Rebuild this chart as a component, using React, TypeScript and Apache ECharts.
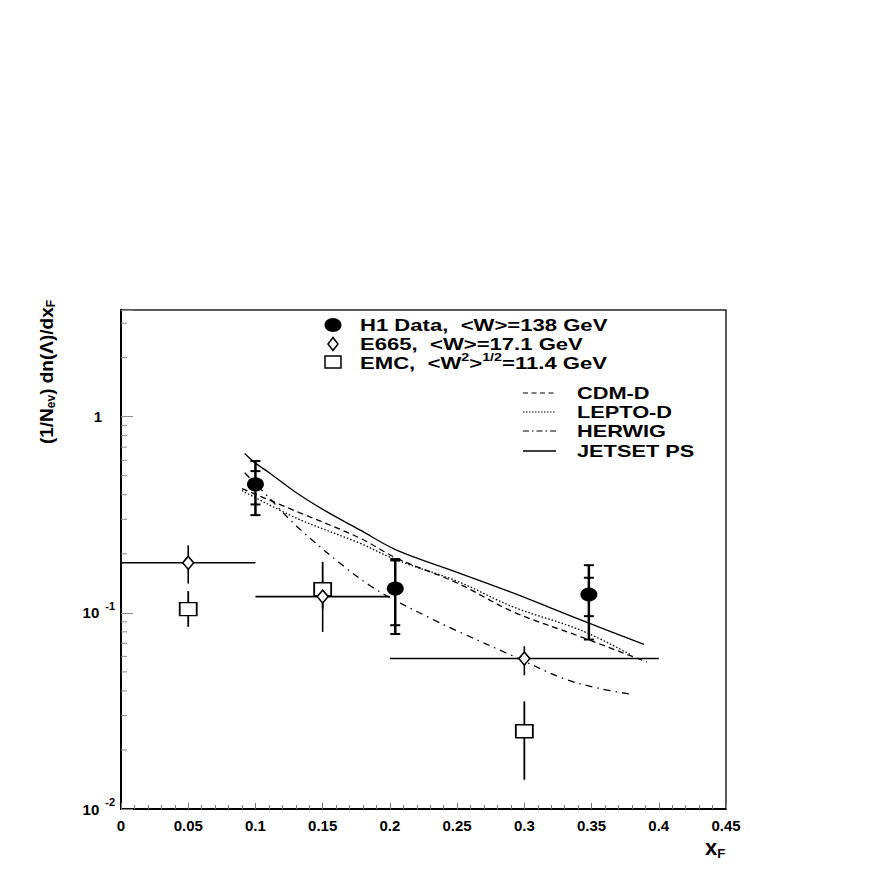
import React, { useEffect, useRef } from 'react';
import * as echarts from 'echarts';

// ---- Data ----
const H1_X = [0.1, 0.204, 0.348];
const H1_Y = [0.452, 0.133, 0.124];
const H1_STAT_LO = [0.357, 0.0865, 0.0962];
const H1_STAT_HI = [0.528, 0.185, 0.151];
const H1_TOT_LO = [0.315, 0.078, 0.0731];
const H1_TOT_HI = [0.594, 0.188, 0.175];

const E665_X = [0.05, 0.15, 0.3];
const E665_XLO = [0.0, 0.1, 0.2];
const E665_XHI = [0.1, 0.2, 0.4];
const E665_Y = [0.18, 0.121, 0.0585];
const E665_YLO = [0.141, 0.08, 0.0481];
const E665_YHI = [0.221, 0.145, 0.0676];

const EMC_X = [0.05, 0.15, 0.3];
const EMC_Y = [0.1045, 0.132, 0.0249];
const EMC_YLO = [0.0849, 0.105, 0.0141];
const EMC_YHI = [0.129, 0.182, 0.0354];

const CDM_X = [0.09, 0.131, 0.178, 0.205, 0.25, 0.292, 0.342, 0.391];
const CDM_Y = [0.43, 0.328, 0.24, 0.19, 0.142, 0.101, 0.0755, 0.0562];

const LEPTO_X = [0.09, 0.131, 0.178, 0.205, 0.25, 0.292, 0.342, 0.38];
const LEPTO_Y = [0.42, 0.303, 0.226, 0.186, 0.145, 0.107, 0.0816, 0.0608];

const HERWIG_X = [0.092, 0.11, 0.131, 0.166, 0.185, 0.203, 0.23, 0.25, 0.292, 0.329, 0.355, 0.379];
const HERWIG_Y = [0.518, 0.387, 0.275, 0.172, 0.138, 0.1166, 0.094, 0.0809, 0.0601, 0.0463, 0.0413, 0.0385];

const JETSET_X = [0.092, 0.1, 0.111, 0.131, 0.153, 0.178, 0.205, 0.25, 0.292, 0.342, 0.389];
const JETSET_Y = [0.65, 0.58, 0.514, 0.407, 0.328, 0.264, 0.209, 0.161, 0.126, 0.092, 0.069];

const X_TICKS = [0, 0.05, 0.1, 0.15, 0.2, 0.25, 0.3, 0.35, 0.4, 0.45];
const Y_MINOR_TICKS = [0.02, 0.03, 0.04, 0.05, 0.06, 0.07, 0.08, 0.09, 0.2, 0.3, 0.4, 0.5, 0.6, 0.7, 0.8, 0.9, 2, 3];

const FONT = '"Liberation Sans", Arial, Helvetica, sans-serif';

const pairs = (xs: number[], ys: number[]) => xs.map((x, i) => [x, ys[i]]);

export default function App() {
  const ref = useRef<HTMLDivElement>(null);
  useEffect(() => {
    const chart = echarts.init(ref.current!, null, { renderer: 'svg' });

    const lineSeries = (name: string, xs: number[], ys: number[], type: any) => ({
      name,
      type: 'line',
      data: pairs(xs, ys),
      showSymbol: false,
      symbol: 'none',
      smooth: 0.35,
      z: 2,
      silent: true,
      lineStyle: { color: '#000', width: 1.3, type },
    });

    const tickTxt = { fontFamily: FONT, fontWeight: 'bold', color: '#000' };

    const option: any = {
      animation: false,
      backgroundColor: '#fff',
      grid: {
        left: 121, top: 310, width: 605, height: 499,
        show: true, borderColor: '#222', borderWidth: 1.5, backgroundColor: 'transparent',
      },
      xAxis: {
        type: 'value', min: 0, max: 0.45, interval: 0.05,
        axisLine: { show: true, onZero: false, lineStyle: { color: '#000', width: 2 } },
        axisTick: { show: true, inside: true, length: 6, lineStyle: { color: '#777', width: 1 } },
        minorTick: { show: true, splitNumber: 5, length: 4, lineStyle: { color: '#777', width: 1 } },
        splitLine: { show: false },
        minorSplitLine: { show: false },
        axisLabel: {
          ...tickTxt, fontSize: 15, margin: 9,
          formatter: (v: number) => {
            const t = X_TICKS.find((k) => Math.abs(k - v) < 1e-9);
            return t === undefined ? '' : String(t);
          },
        },
      },
      yAxis: {
        type: 'log', logBase: 10, min: 0.01, max: 3.5, splitNumber: 3,
        axisLine: { show: true, onZero: false, lineStyle: { color: '#000', width: 2 } },
        axisTick: { show: true, inside: true, length: 12, lineStyle: { color: '#888', width: 1 } },
        minorTick: { show: false },
        splitLine: { show: false },
        axisLabel: {
          margin: 6,
          formatter: (v: number) => {
            if (Math.abs(v - 1) < 1e-9) return '{n|1}{p|}';
            if (Math.abs(v - 0.1) < 1e-10) return '{n|10}{s|-1}';
            if (Math.abs(v - 0.01) < 1e-11) return '{n|10}{s|-2}';
            return '';
          },
          rich: {
            n: { ...tickTxt, fontSize: 15 },
            s: { ...tickTxt, fontSize: 11, padding: [0, 0, 14, 6] },
            p: { width: 13 },
          },
        },
      },
      series: [
        // y minor ticks (log 2..9)
        {
          type: 'custom', silent: true, z: 1,
          data: Y_MINOR_TICKS.map((v) => [0, v]),
          renderItem: (params: any, api: any) => {
            const p = api.coord([0, api.value(1)]);
            return {
              type: 'line',
              shape: { x1: p[0], y1: p[1], x2: p[0] + 6, y2: p[1] },
              style: { stroke: '#888', lineWidth: 1 },
            };
          },
        },
        lineSeries('CDM-D', CDM_X, CDM_Y, [6, 4]),
        lineSeries('LEPTO-D', LEPTO_X, LEPTO_Y, [1.5, 2]),
        lineSeries('HERWIG', HERWIG_X, HERWIG_Y, [7, 5, 1.5, 5]),
        lineSeries('JETSET PS', JETSET_X, JETSET_Y, 'solid'),
        // H1 error bars
        {
          type: 'custom', silent: true, z: 3,
          data: H1_X.map((x, i) => [x, H1_Y[i], H1_TOT_LO[i], H1_TOT_HI[i], H1_STAT_LO[i], H1_STAT_HI[i]]),
          renderItem: (params: any, api: any) => {
            const x = api.value(0);
            const tl = api.coord([x, api.value(2)]);
            const th = api.coord([x, api.value(3)]);
            const sl = api.coord([x, api.value(4)]);
            const sh = api.coord([x, api.value(5)]);
            const st = { stroke: '#000', lineWidth: 2.5 };
            const cap = (p: number[]) => ({
              type: 'line', shape: { x1: p[0] - 5, y1: p[1], x2: p[0] + 5, y2: p[1] }, style: { stroke: '#000', lineWidth: 2 },
            });
            return {
              type: 'group',
              children: [
                { type: 'line', shape: { x1: tl[0], y1: tl[1], x2: th[0], y2: th[1] }, style: st },
                cap(tl), cap(th), cap(sl), cap(sh),
              ],
            };
          },
        },
        // E665 error bars
        {
          type: 'custom', silent: true, z: 3,
          data: E665_X.map((x, i) => [x, E665_Y[i], E665_XLO[i], E665_XHI[i], E665_YLO[i], E665_YHI[i]]),
          renderItem: (params: any, api: any) => {
            const x = api.value(0);
            const y = api.value(1);
            const a = api.coord([api.value(2), y]);
            const b = api.coord([api.value(3), y]);
            const c = api.coord([x, api.value(4)]);
            const d = api.coord([x, api.value(5)]);
            const st = { stroke: '#000', lineWidth: 1.6 };
            return {
              type: 'group',
              children: [
                { type: 'line', shape: { x1: a[0], y1: a[1], x2: b[0], y2: b[1] }, style: st },
                { type: 'line', shape: { x1: c[0], y1: c[1], x2: d[0], y2: d[1] }, style: st },
              ],
            };
          },
        },
        // EMC error bars
        {
          type: 'custom', silent: true, z: 3,
          data: EMC_X.map((x, i) => [x, EMC_Y[i], EMC_YLO[i], EMC_YHI[i]]),
          renderItem: (params: any, api: any) => {
            const x = api.value(0);
            const c = api.coord([x, api.value(2)]);
            const d = api.coord([x, api.value(3)]);
            return {
              type: 'line',
              shape: { x1: c[0], y1: c[1], x2: d[0], y2: d[1] },
              style: { stroke: '#000', lineWidth: 1.8 },
            };
          },
        },
        {
          name: 'EMC', type: 'scatter', z: 4, silent: true,
          data: pairs(EMC_X, EMC_Y), symbol: 'rect', symbolSize: [17, 13],
          itemStyle: { color: '#fff', borderColor: '#000', borderWidth: 1.6, opacity: 1 },
        },
        {
          name: 'E665', type: 'scatter', z: 5, silent: true,
          data: pairs(E665_X, E665_Y), symbol: 'diamond', symbolSize: [11, 13],
          itemStyle: { color: '#fff', borderColor: '#000', borderWidth: 1.6, opacity: 1 },
        },
        {
          name: 'H1 Data', type: 'scatter', z: 6, silent: true,
          data: pairs(H1_X, H1_Y), symbol: 'circle', symbolSize: [17, 14],
          itemStyle: { color: '#000', opacity: 1 },
        },
      ],
      graphic: [
        // legend 1 markers
        { type: 'ellipse', shape: { cx: 333, cy: 325, rx: 8.5, ry: 7 }, style: { fill: '#000' }, z: 10 },
        {
          type: 'polygon', shape: { points: [[333, 337.5], [338, 344], [333, 350.5], [328, 344]] },
          style: { fill: '#fff', stroke: '#000', lineWidth: 1.5 }, z: 10,
        },
        { type: 'rect', shape: { x: 325, y: 356, width: 16, height: 12 }, style: { fill: '#fff', stroke: '#000', lineWidth: 1.5 }, z: 10 },
        {
          type: 'text', x: 360, y: 325, scaleX: 1.3, z: 10,
          style: { text: 'H1 Data,  <W>=138 GeV', font: `bold 17px ${FONT}`, fill: '#000', textAlign: 'left', textVerticalAlign: 'middle' },
        },
        {
          type: 'text', x: 360, y: 344, scaleX: 1.3, z: 10,
          style: { text: 'E665,  <W>=17.1 GeV', font: `bold 17px ${FONT}`, fill: '#000', textAlign: 'left', textVerticalAlign: 'middle' },
        },
        {
          type: 'text', x: 360, y: 363, scaleX: 1.3, z: 10,
          style: {
            text: '{m|EMC,  <W}{u|2}{m|>}{u|1/2}{m|=11.4 GeV}',
            rich: {
              m: { fontFamily: FONT, fontWeight: 'bold', fontSize: 17, fill: '#000', color: '#000' },
              u: { fontFamily: FONT, fontWeight: 'bold', fontSize: 11, fill: '#000', color: '#000', padding: [0, 0, 12, 0] },
            },
            font: `bold 17px ${FONT}`, fill: '#000', textAlign: 'left', textVerticalAlign: 'middle',
          },
        },
        // legend 2 line samples
        { type: 'line', shape: { x1: 523, y1: 393, x2: 556, y2: 393 }, style: { stroke: '#000', lineWidth: 1.2, lineDash: [5, 3.5] }, z: 10 },
        { type: 'line', shape: { x1: 523, y1: 412, x2: 556, y2: 412 }, style: { stroke: '#000', lineWidth: 1.2, lineDash: [1.5, 1.5] }, z: 10 },
        { type: 'line', shape: { x1: 523, y1: 431, x2: 556, y2: 431 }, style: { stroke: '#000', lineWidth: 1.2, lineDash: [6, 3, 1.5, 3] }, z: 10 },
        { type: 'line', shape: { x1: 523, y1: 451, x2: 556, y2: 451 }, style: { stroke: '#000', lineWidth: 1.3 }, z: 10 },
        ...['CDM-D', 'LEPTO-D', 'HERWIG', 'JETSET PS'].map((t, i) => ({
          type: 'text', x: 577, y: [393, 412, 431, 451][i], scaleX: 1.28, z: 10,
          style: { text: t, font: `bold 17px ${FONT}`, fill: '#000', textAlign: 'left', textVerticalAlign: 'middle' },
        })),
        // y axis title
        {
          type: 'text', x: 46, y: 372, rotation: Math.PI / 2, z: 10,
          style: {
            text: '{m|(1/N}{b|ev}{m|) dn(Λ)/dx}{b|F}',
            rich: {
              m: { fontFamily: FONT, fontWeight: 'bold', fontSize: 19, fill: '#000', color: '#000' },
              b: { fontFamily: FONT, fontWeight: 'bold', fontSize: 12, fill: '#000', color: '#000', padding: [10, 0, 0, 0] },
            },
            font: `bold 19px ${FONT}`, fill: '#000', textAlign: 'center', textVerticalAlign: 'middle',
          },
        },
        // x axis title
        {
          type: 'text', x: 705, y: 847, z: 10,
          style: {
            text: '{m|x}{b|F}',
            rich: {
              m: { fontFamily: FONT, fontWeight: 'bold', fontSize: 22, fill: '#000', color: '#000' },
              b: { fontFamily: FONT, fontWeight: 'bold', fontSize: 13, fill: '#000', color: '#000', padding: [12, 0, 0, 0] },
            },
            font: `bold 22px ${FONT}`, fill: '#000', textAlign: 'left', textVerticalAlign: 'middle',
          },
        },
      ],
    };

    chart.setOption(option);
    return () => chart.dispose();
  }, []);

  return (
    <div
      ref={ref}
      style={{ position: 'fixed', left: 0, top: 0, width: 872, height: 872, background: '#fff' }}
    />
  );
}
